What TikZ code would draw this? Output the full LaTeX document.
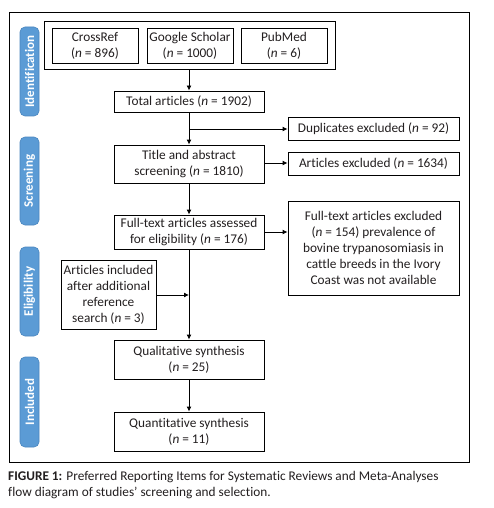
\documentclass[tikz,border=0pt]{standalone}
\usepackage{fontspec}
\setmainfont[Ligatures=NoCommon]{Carlito}
\usetikzlibrary{arrows.meta,calc}
\definecolor{sideblue}{HTML}{5B9BD5}
\definecolor{sideedge}{HTML}{4A86BF}
\definecolor{txt}{HTML}{231F20}
\tikzset{
  box/.style={draw=black, line width=0.9pt, inner sep=0pt, align=center, text=txt,
    font=\fontsize{13.3}{16}\selectfont},
  frame/.style={draw=black, line width=0.9pt},
  side/.style={draw=sideedge, fill=sideblue, line width=0.6pt, rounded corners=5pt,
    minimum height=19pt, inner sep=0pt, text=white, rotate=90,
    font=\fontsize{13}{15}\selectfont\bfseries},
  arr/.style={draw=black, line width=0.9pt, -{Latex[length=5pt,width=5pt]}},
  ln/.style={draw=black, line width=0.9pt},
}
\begin{document}
\begin{tikzpicture}[x=1pt,y=-1pt]
\useasboundingbox (0,0) rectangle (494,508);
\fill[white] (0,0) rectangle (494,508);
\draw[frame] (9.5,12) rectangle (469,462);

% side labels
\node[side, minimum width=89pt] (sid) at (29.5,71.5) {Identification};
\node[side, minimum width=88pt] (sscr) at (29.5,181) {Screening};
\node[side, minimum width=89pt] (selig) at (29.5,291.5) {Eligibility};
\node[side, minimum width=90pt] (sinc) at (29.5,402) {Included};

% sources
\node[box, minimum width=291pt, minimum height=48pt] (group) at (189.5,45) {};
\node[box, minimum width=86pt, minimum height=35pt] (cross) at (95,45.5) {CrossRef\\(\textit{n} = 896)};
\node[box, minimum width=86pt, minimum height=35pt] (google) at (190,45.5) {Google Scholar\\(\textit{n} = 1000)};
\node[box, minimum width=86pt, minimum height=35pt] (pubmed) at (284,45.5) {PubMed\\(\textit{n} = 6)};

\node[box, minimum width=150pt, minimum height=21pt] (total) at (189,101.5) {Total articles (\textit{n} = 1902)};
\node[box, minimum width=171pt, minimum height=23pt] (dup) at (373.5,128.5) {Duplicates excluded (\textit{n} = 92)};
\node[box, minimum width=150pt, minimum height=38pt] (title) at (189,164) {Title and abstract\\screening (\textit{n} = 1810)};
\node[box, minimum width=171pt, minimum height=23pt] (artex) at (373.5,163.5) {Articles excluded (\textit{n} = 1634)};
\node[box, minimum width=150pt, minimum height=34pt] (full) at (189,232) {Full-text articles assessed\\for eligibility (\textit{n} = 176)};
\node[box, minimum width=171pt, minimum height=94pt] (fullex) at (373.5,248) {Full-text articles excluded\\(\textit{n} = 154) prevalence of\\bovine trypanosomiasis in\\cattle breeds in the Ivory\\Coast was not available};
\node[box, minimum width=95pt, minimum height=69pt] (add) at (108.5,294.5) {Articles included\\after additional\\reference\\search (\textit{n} = 3)};
\node[box, minimum width=150pt, minimum height=39pt] (qual) at (189,359.5) {Qualitative synthesis\\(\textit{n} = 25)};
\node[box, minimum width=150pt, minimum height=39pt] (quant) at (189,431.5) {Quantitative synthesis\\(\textit{n} = 11)};

\coordinate (j1) at (189,129);
\coordinate (j2) at (189,295);

% connectors
\draw[arr] (group.south -| total.north) -- (total.north);
\draw[arr] (total.south) -- (title.north);
\draw[arr] (j1) -- (j1 -| dup.west);
\draw[arr] (title.east |- 0,163) -- (artex.west |- 0,163);
\draw[arr] (title.south) -- (full.north);
\draw[arr] (full.east) -- (full.east -| fullex.west);
\draw[arr] (full.south) -- (qual.north);
\draw[arr] (add.east |- j2) -- (j2);
\draw[arr] (qual.south) -- (quant.north);

% caption
\node[anchor=north west, inner sep=0pt, align=left, text=txt,
  font=\fontsize{13.3}{16}\selectfont] (cap) at (8,471.5)
  {\textbf{FIGURE 1:} Preferred Reporting Items for Systematic Reviews and Meta-Analyses\\flow diagram of studies’ screening and selection.};
\end{tikzpicture}
\end{document}
